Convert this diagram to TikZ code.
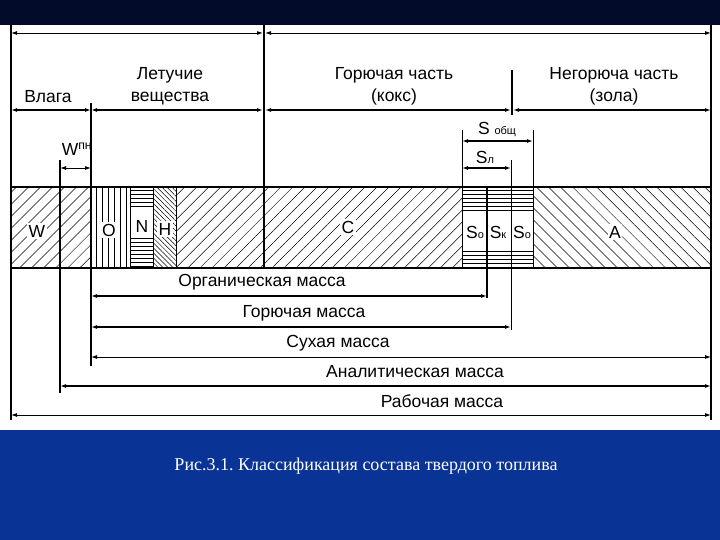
\documentclass[tikz,border=0pt]{standalone}
\usepackage{fontspec}
\setmainfont{Liberation Sans}
\newfontfamily\capfont{Liberation Serif}
\usetikzlibrary{arrows.meta,patterns.meta}
\frenchspacing

\definecolor{topband}{HTML}{020B2A}
\definecolor{slideblue}{HTML}{0A3396}

\begin{document}
\begin{tikzpicture}[x=1pt, y=-1pt,
  every node/.style={inner sep=1pt, font=\fontsize{17.5}{22}\selectfont},
  dim/.style={{Latex[length=6pt,width=4pt]}-{Latex[length=6pt,width=4pt]}},
  bold/.style={line width=1.8pt},
  fine/.style={line width=0.9pt},
  letter/.style={fill=white, inner sep=1.5pt},
  ne/.style={pattern={Lines[angle=45,distance=8.5pt,line width=0.5pt]}},
  nw/.style={pattern={Lines[angle=-45,distance=8.5pt,line width=0.5pt]}},
  nwdense/.style={pattern={Lines[angle=-45,distance=3.5pt,line width=0.5pt]}},
  vert/.style={pattern={Lines[angle=90,distance=6pt,line width=0.6pt]}}]

% slide background
\fill[white] (0,0) rectangle (720,540);
\fill[topband] (0,0) rectangle (720,25);
\fill[slideblue] (0,430) rectangle (720,540);
\useasboundingbox (0,0) rectangle (720,540);

% composition bar
\path[ne] (11,187) rectangle (264,268);
\path[ne] (264,187) rectangle (462,268);
\fill[white] (91,187) rectangle (176,268);
\path[vert] (91,187) rectangle (130,268);
\path[nwdense] (153,187) rectangle (176,268);
\fill[white] (462,187) rectangle (533,268);
\path[nw] (533,187) rectangle (711,268);
% horizontal hatching of N and S
\foreach \y in {190,194,...,208,238,242,...,266} {
  \coordinate (na) at (130,\y); \coordinate (nb) at (153,\y);
  \draw[line width=0.9pt] (na) -- (nb);
}
\foreach \y in {190,194,...,210,251,255,...,266} {
  \coordinate (sa) at (462,\y); \coordinate (sb) at (533,\y);
  \draw[line width=0.9pt] (sa) -- (sb);
}

\node[letter] (w) at (37,231) {W};
\node[letter] (o) at (109,230) {O};
\node[letter] (n) at (142,226) {N};
\node[letter] (h) at (165,229) {H};
\node[letter] (c) at (348,227) {C};
\node[letter] (so1) at (475,232) {S{\fontsize{11}{11}\selectfont о}};
\node[letter] (sk) at (498,232) {S{\fontsize{11}{11}\selectfont к}};
\node[letter] (so2) at (522,232) {S{\fontsize{11}{11}\selectfont о}};
\node[letter] (a) at (615,232) {A};

% end points
\coordinate (L0) at (11,25);    \coordinate (L1) at (11,420);
\coordinate (R0) at (711,25);   \coordinate (R1) at (711,420);
\coordinate (K0) at (264,25);   \coordinate (K1) at (264,268);
\coordinate (V0) at (91,103);   \coordinate (V1) at (91,366);
\coordinate (W0) at (60,160);   \coordinate (W1) at (60,393);
\coordinate (Z0) at (512,70);   \coordinate (Z1) at (512,115);
\coordinate (G0) at (511,160);  \coordinate (G1) at (511,330);
\coordinate (S0) at (462,130);  \coordinate (S1) at (462,268);
\coordinate (T0) at (533,130);  \coordinate (T1) at (533,268);
\coordinate (O0) at (487,187);  \coordinate (O1) at (487,298);
\coordinate (B0) at (11,187);   \coordinate (B1) at (711,187);
\coordinate (B2) at (11,268);   \coordinate (B3) at (711,268);
\foreach \x in {130,153,176} {
  \coordinate (s\x a) at (\x,187); \coordinate (s\x b) at (\x,268);
  \draw[fine] (s\x a) -- (s\x b);
}

\draw[bold] (L0) -- (L1);
\draw[bold] (R0) -- (R1);
\draw[bold] (K0) -- (K1);
\draw[bold] (V0) -- (V1);
\draw[bold] (W0) -- (W1);
\draw[bold] (Z0) -- (Z1);
\draw[fine] (G0) -- (G1);
\draw[fine] (S0) -- (S1);
\draw[fine] (T0) -- (T1);
\draw[bold] (O0) -- (O1);
\draw[line width=2.4pt] (B0) -- (B1);
\draw[line width=2.4pt] (B2) -- (B3);

% top dimensions
\coordinate (a1) at (11,33);  \coordinate (a2) at (263,33);
\coordinate (a3) at (265,33); \coordinate (a4) at (711,33);
\draw[dim, fine] (a1) -- (a2);
\draw[dim, fine] (a3) -- (a4);

\coordinate (b1) at (11,110);  \coordinate (b2) at (91,110);
\coordinate (b3) at (263,110); \coordinate (b4) at (265,110);
\coordinate (b5) at (511,110); \coordinate (b6) at (513,110);
\coordinate (b7) at (711,110);
\draw[dim, bold] (b1) -- (b2);
\draw[dim, bold] (b2) -- (b3);
\draw[dim, bold] (b4) -- (b5);
\draw[dim, bold] (b6) -- (b7);

\node (vlaga) at (48,97) {Влага};
\node[align=center] (letuch) at (170,86) {Летучие\\вещества};
\node[align=center] (koks) at (394,86) {Горючая часть\\(кокс)};
\node[align=center] (zola) at (614,86) {Негорюча часть\\(зола)};

% small dimensions
\coordinate (wa) at (60,168);  \coordinate (wb) at (91,168);
\draw[dim, fine] (wa) -- (wb);
\node (wpn) at (77,149) {W\textsuperscript{пн}};

\coordinate (sa) at (462,141); \coordinate (sb) at (533,141);
\draw[dim, bold] (sa) -- (sb);
\node (sobsh) at (497,129) {S {\fontsize{11}{11}\selectfont общ}};

\coordinate (la) at (462,168); \coordinate (lb) at (511,168);
\draw[dim, bold] (la) -- (lb);
\node (sl) at (485,157) {S{\fontsize{11}{11}\selectfont л}};

% masses
\coordinate (m1a) at (91,296);  \coordinate (m1b) at (487,296);
\coordinate (m2a) at (91,327);  \coordinate (m2b) at (511,327);
\coordinate (m3a) at (91,357);  \coordinate (m3b) at (711,357);
\coordinate (m4a) at (60,386);  \coordinate (m4b) at (711,386);
\coordinate (m5a) at (11,415);  \coordinate (m5b) at (711,415);
\draw[dim, bold] (m1a) -- (m1b);
\draw[dim, bold] (m2a) -- (m2b);
\draw[dim, fine] (m3a) -- (m3b);
\draw[dim, bold] (m4a) -- (m4b);
\draw[dim, fine] (m5a) -- (m5b);

\node (org) at (262,282) {Органическая масса};
\node (gor) at (304,313) {Горючая масса};
\node (suh) at (338,343) {Сухая масса};
\node (anal) at (415,372) {Аналитическая масса};
\node (rab) at (442,401) {Рабочая масса};

% caption
\node[text=white, font=\capfont\fontsize{18}{20}\selectfont] (caption) at (366,466)
  {Рис.3.1. Классификация состава твердого топлива};
\end{tikzpicture}
\end{document}
